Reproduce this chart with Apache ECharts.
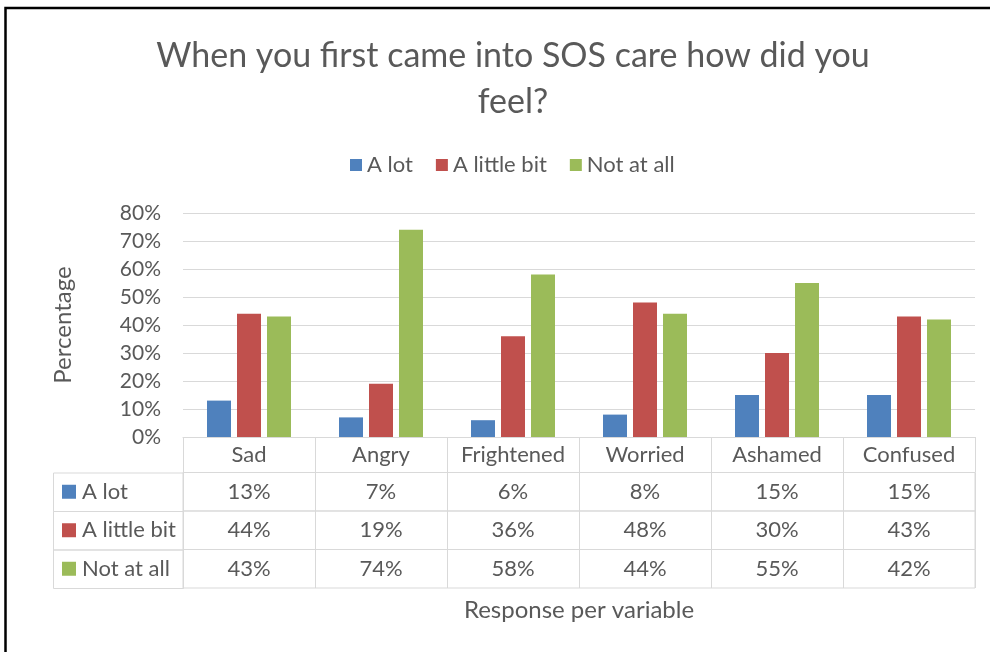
<!DOCTYPE html>
<html>
<head>
<meta charset="utf-8">
<script src="https://cdn.jsdelivr.net/npm/echarts@6/dist/echarts.min.js"></script>
<style>
  html, body { margin: 0; padding: 0; background: #fff; }
  #main { width: 990px; height: 652px; }
</style>
</head>
<body>
<div id="main"></div>
<script>
// data
const categories = ["Sad", "Angry", "Frightened", "Worried", "Ashamed", "Confused"];
const seriesNames = ["A lot", "A little bit", "Not at all"];
const aLot = [13, 7, 6, 8, 15, 15];
const aLittleBit = [44, 19, 36, 48, 30, 43];
const notAtAll = [43, 74, 58, 44, 55, 42];
const yTicks = { min: 0, max: 80, interval: 10 };

const colors = ["#4f81bd", "#c0504d", "#9bbb59"];
const rows = [aLot, aLittleBit, notAtAll];
const textColor = "#595959";
const lineColor = "#d9d9d9";
const font = "Lato";

// layout
const plotLeft = 183, plotRight = 975, plotTop = 213, plotBottom = 437;
const headerH = 35.5, rowH = 38.5, labelCellLeft = 53;
const W = 990, H = 652;

let chart = echarts.init(document.getElementById("main"));

let grids = [{
  left: plotLeft, right: W - plotRight, top: plotTop, bottom: H - plotBottom
}];
let xAxes = [{
  type: "category",
  data: categories,
  gridIndex: 0,
  axisLine: { show: true, lineStyle: { color: lineColor, width: 1 } },
  axisTick: { show: true, length: headerH, interval: 0, alignWithLabel: false,
    lineStyle: { color: lineColor } },
  axisLabel: { color: textColor, fontSize: 22, fontFamily: font, margin: 7, interval: 0 },
  name: "Response per variable",
  nameLocation: "middle",
  nameGap: 161,
  nameTextStyle: { color: textColor, fontSize: 24, fontFamily: font }
}];
let yAxes = [{
  type: "value",
  gridIndex: 0,
  min: yTicks.min, max: yTicks.max, interval: yTicks.interval,
  axisLabel: { formatter: "{value}%", color: textColor, fontSize: 21, fontFamily: font, margin: 22 },
  splitLine: { lineStyle: { color: lineColor, width: 1 } },
  axisLine: { show: false },
  name: "Percentage",
  nameLocation: "middle",
  nameRotate: 90,
  nameGap: 108,
  nameTextStyle: { color: textColor, fontSize: 24, fontFamily: font }
}];
let graphics = [{
  type: "rect",
  shape: { x: 5.5, y: 8, width: 1100, height: 800 },
  style: { fill: "none", stroke: "#000", lineWidth: 2.5 },
  silent: true
}];

rows.forEach((vals, r) => {
  let top = plotBottom + headerH + r * rowH;
  grids.push({
    left: plotLeft, right: W - plotRight, top: top, height: rowH,
    show: true, borderColor: lineColor, borderWidth: 1, backgroundColor: "transparent"
  });
  xAxes.push({
    type: "category",
    gridIndex: r + 1,
    data: categories,
    axisLine: { show: false },
    axisTick: { show: false },
    splitLine: { show: true, interval: 0, lineStyle: { color: lineColor, width: 1 } },
    axisLabel: {
      inside: true, margin: rowH / 2, verticalAlign: "middle", interval: 0,
      color: textColor, fontSize: 22, fontFamily: font,
      formatter: (v, i) => vals[i] + "%"
    }
  });
  yAxes.push({
    type: "category",
    gridIndex: r + 1,
    data: [seriesNames[r]],
    axisLine: { show: false },
    axisTick: { show: false },
    splitLine: { show: false },
    axisLabel: {
      align: "left",
      margin: plotLeft - 62,
      formatter: (v) => "{sq|}{t|" + v + "}",
      rich: {
        sq: { width: 14, height: 14, backgroundColor: colors[r] },
        t: { color: textColor, fontSize: 22, fontFamily: font, padding: [0, 0, 0, 6] }
      }
    }
  });
  graphics.push({
    type: "rect",
    shape: { x: labelCellLeft + 0.5, y: top + 0.5, width: plotLeft - labelCellLeft, height: rowH },
    style: { fill: "none", stroke: lineColor, lineWidth: 1 },
    silent: true
  });
});

let series = rows.map((vals, r) => ({
  name: seriesNames[r],
  type: "bar",
  xAxisIndex: 0,
  yAxisIndex: 0,
  data: vals,
  barWidth: 24,
  barGap: "25%",
  itemStyle: { color: colors[r] }
}));

let option = {
  animation: false,
  backgroundColor: "#fff",
  title: {
    text: "When you first came into SOS care how did you\nfeel?",
    left: 508,
    textAlign: "center",
    top: 28,
    textStyle: { color: textColor, fontSize: 34, fontWeight: "normal", fontFamily: font, lineHeight: 46 }
  },
  legend: {
    data: seriesNames,
    left: 345,
    top: 149,
    itemWidth: 12,
    itemHeight: 12,
    itemGap: 23,
    icon: "rect",
    textStyle: { color: textColor, fontSize: 22, fontFamily: font }
  },
  grid: grids,
  xAxis: xAxes,
  yAxis: yAxes,
  series: series,
  graphic: graphics
};
chart.setOption(option);
</script>
</body>
</html>
